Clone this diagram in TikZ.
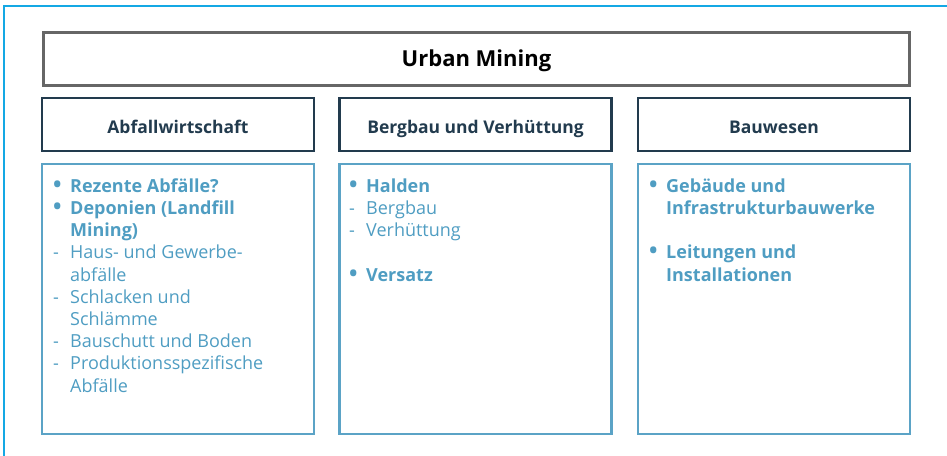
\documentclass[tikz,border=0pt]{standalone}
\usepackage{fontspec}
\setmainfont{Open Sans}
\usetikzlibrary{positioning}

\definecolor{rahmen}{HTML}{14A8E4}
\definecolor{titelgrau}{HTML}{666666}
\definecolor{kopfblau}{HTML}{223B4E}
\definecolor{boxblau}{HTML}{5BA3C6}
\definecolor{textblau}{HTML}{4F9DC2}

\newcommand{\punkt}{\scalebox{1.25}{\textbf{\textbullet}}}

\tikzset{
  kopf/.style={draw=kopfblau, line width=2.5pt, minimum width=272pt, minimum height=53pt,
    text=kopfblau, text height=17pt, text depth=0pt, font=\fontsize{17.5}{20}\selectfont\bfseries},
  inhalt/.style={draw=boxblau, line width=2.5pt, minimum width=272pt, minimum height=270pt},
  liste/.style={anchor=north west, inner sep=0pt, text=textblau,
    font=\fontsize{18}{22.2}\selectfont}
}

\begin{document}
\begin{tikzpicture}[x=1pt,y=-1pt]
\useasboundingbox (0,0) rectangle (947,455);

% aeusserer Rahmen
\draw[rahmen, line width=1.5pt] (4,456) -- (4,6) -- (948,6);

\node[draw=titelgrau, line width=3pt, minimum width=866pt, minimum height=53pt,
  text height=15.5pt, text depth=0pt,
  font=\fontsize{22}{26}\selectfont\bfseries] (UM) at (476.5,59) {Urban Mining};

\node[kopf] (A) at (178,124.5) {Abfallwirtschaft};
\node[kopf] (B) at (475.5,124.5) {Bergbau und Verhüttung};
\node[kopf] (C) at (774,124.5) {Bauwesen};

\node[inhalt] (D) at (178,299) {};
\node[inhalt] (E) at (475.5,299) {};
\node[inhalt] (F) at (774,299) {};

\node[liste] (d) at (53,176.5) {\begin{tabular}{@{}p{17pt}@{}l@{}}
\punkt & \textbf{Rezente Abfälle?}\\
\punkt & \textbf{Deponien (Landfill}\\
 & \textbf{Mining)}\\
- & Haus- und Gewerbe-\\
 & abfälle\\
- & Schlacken und\\
 & Schlämme\\
- & Bauschutt und Boden\\
- & Produktionsspezifische\\
 & Abfälle
\end{tabular}};

\node[liste] (e) at (349,176.5) {\begin{tabular}{@{}p{17pt}@{}l@{}}
\punkt & \textbf{Halden}\\
- & Bergbau\\
- & Verhüttung\\
 & \\
\punkt & \textbf{Versatz}
\end{tabular}};

\node[liste] (f) at (649,176.5) {\begin{tabular}{@{}p{17pt}@{}l@{}}
\punkt & \textbf{Gebäude und}\\
 & \textbf{Infrastrukturbauwerke}\\
 & \\
\punkt & \textbf{Leitungen und}\\
 & \textbf{Installationen}
\end{tabular}};

\end{tikzpicture}
\end{document}
